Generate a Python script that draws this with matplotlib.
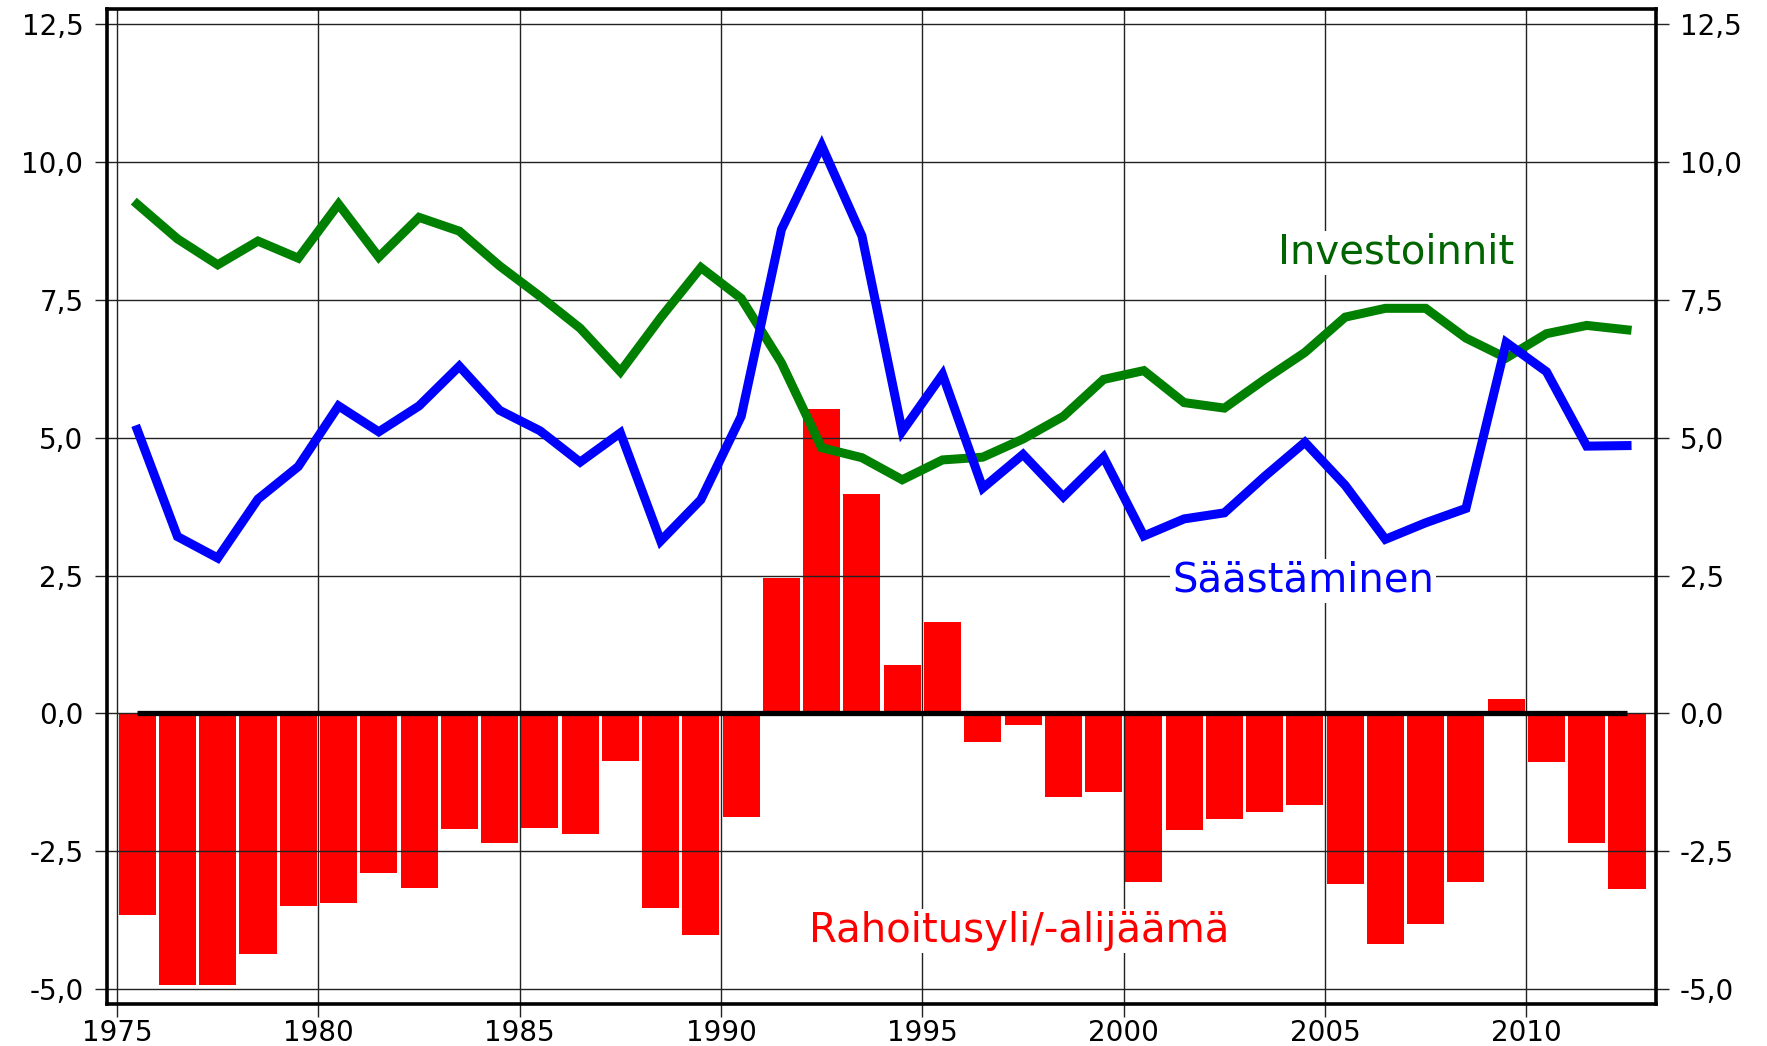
import matplotlib
matplotlib.use("Agg")
import matplotlib.pyplot as plt
import numpy as np

years = list(range(1975, 2013))

# Rahoitusyli/-alijäämä (bars)
balance = [-3.65, -4.92, -4.92, -4.37, -3.49, -3.44, -2.90, -3.17, -2.09, -2.35,
           -2.07, -2.19, -0.86, -3.52, -4.01, -1.88, 2.45, 5.52, 3.99, 0.88,
           1.66, -0.51, -0.20, -1.51, -1.43, -3.05, -2.11, -1.92, -1.78, -1.66,
           -3.10, -4.18, -3.82, -3.05, 0.27, -0.88, -2.35, -3.18]

# Investoinnit (green line)
investment = [9.24, 8.61, 8.14, 8.57, 8.26, 9.24, 8.28, 9.00, 8.75, 8.12,
              7.57, 6.99, 6.20, 7.18, 8.09, 7.53, 6.36, 4.82, 4.64, 4.24,
              4.60, 4.65, 4.98, 5.39, 6.06, 6.22, 5.64, 5.54, 6.06, 6.55,
              7.19, 7.35, 7.35, 6.81, 6.45, 6.89, 7.04, 6.96]

# Säästäminen (blue line)
saving = [5.15, 3.21, 2.82, 3.89, 4.48, 5.58, 5.11, 5.58, 6.30, 5.50,
          5.13, 4.56, 5.09, 3.13, 3.88, 5.39, 8.78, 10.30, 8.66, 5.12,
          6.15, 4.09, 4.70, 3.93, 4.65, 3.22, 3.53, 3.64, 4.30, 4.92,
          4.14, 3.16, 3.46, 3.72, 6.73, 6.20, 4.85, 4.86]

x_ticks = [1975, 1980, 1985, 1990, 1995, 2000, 2005, 2010]
y_ticks = [-5.0, -2.5, 0.0, 2.5, 5.0, 7.5, 10.0, 12.5]
y_tick_labels = ["-5,0", "-2,5", "0,0", "2,5", "5,0", "7,5", "10,0", "12,5"]

plt.rcParams['font.family'] = ['DejaVu Sans']

fig = plt.figure(figsize=(17.67, 10.46), dpi=100)
ax = fig.add_axes([107/1767, 1 - 1004/1046, (1656 - 107)/1767, (1004 - 9)/1046])

xc = np.array(years) + 0.5
ax.bar(xc, balance, width=0.92, color='#ff0000', zorder=1)
ax.plot([xc[0], xc[-1]], [0, 0], color='black', lw=3.8, solid_capstyle='butt', zorder=3)
ax.plot(xc, investment, color='#008000', lw=6.5, zorder=4, solid_joinstyle='miter')
ax.plot(xc, saving, color='#0000ff', lw=6.5, zorder=5, solid_joinstyle='miter')

ax.set_xlim(1974.75, 2013.22)
ax.set_ylim(-5.27, 12.78)
ax.set_xticks(x_ticks)
ax.set_xticklabels([str(v) for v in x_ticks])
ax.set_yticks(y_ticks)
ax.set_yticklabels(y_tick_labels)

ax.set_axisbelow(False)
ax.grid(True, color='#222222', lw=1.0)
ax.tick_params(axis='y', which='major', left=True, right=True, labelleft=True, labelright=True,
               direction='out', length=9, width=1.0, color='#222222', labelsize=20, pad=8)
ax.tick_params(axis='x', which='major', direction='out', length=9, width=1.0, color='#222222',
               labelsize=20, pad=2)
for s in ax.spines.values():
    s.set_linewidth(2.6)
    s.set_color('black')
    s.set_zorder(6)

bbox = dict(facecolor='white', edgecolor='none', pad=1.5)
ax.text(2006.77, 8.36, "Investoinnit", color='#006400', fontsize=29, ha='center', va='center',
        bbox=bbox, zorder=7)
ax.text(2004.45, 2.41, "Säästäminen", color='#0000ff', fontsize=29, ha='center', va='center',
        bbox=bbox, zorder=7)
ax.text(1997.4, -3.95, "Rahoitusyli/-alijäämä", color='#ff0000', fontsize=29, ha='center', va='center',
        bbox=bbox, zorder=7)

fig.savefig("out.png", dpi=100)
